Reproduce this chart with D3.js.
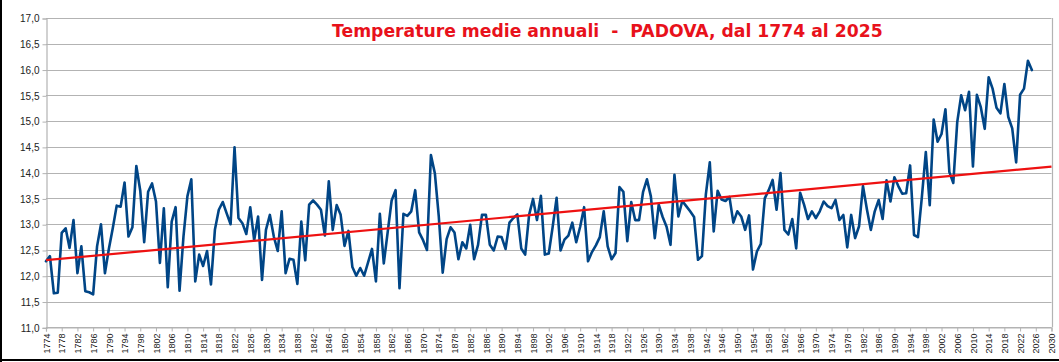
<!DOCTYPE html>
<html>
<head>
<meta charset="utf-8">
<script src="https://cdn.jsdelivr.net/npm/d3@7/dist/d3.min.js"></script>
<style>
  html, body { margin: 0; padding: 0; background: #fff; }
  svg { display: block; }
</style>
</head>
<body>
<div id="chart"></div>
<script>
// Annual mean temperature, Padova 1774-2025
var firstYear = 1774;
var temps = [
  // 1774-1779
  12.28, 12.38, 11.66, 11.67, 12.83, 12.92,
  // 1780s
  12.54, 13.08, 12.05, 12.57, 11.70, 11.68, 11.64, 12.57, 13.00, 12.05,
  // 1790s
  12.52, 12.92, 13.36, 13.34, 13.81, 12.76, 12.94, 14.13, 13.65, 12.65,
  // 1800s
  13.63, 13.79, 13.44, 12.25, 13.31, 11.78, 13.05, 13.33, 11.71, 12.76,
  // 1810s
  13.54, 13.87, 11.89, 12.41, 12.19, 12.48, 11.83, 12.89, 13.28, 13.43,
  // 1820s
  13.21, 13.00, 14.49, 13.12, 13.02, 12.81, 13.33, 12.69, 13.15, 11.92,
  // 1830s
  12.89, 13.18, 12.76, 12.48, 13.25, 12.05, 12.33, 12.31, 11.84, 13.05,
  // 1840s
  12.30, 13.38, 13.46, 13.38, 13.28, 12.78, 13.83, 12.89, 13.37, 13.19,
  // 1850s
  12.58, 12.87, 12.17, 12.00, 12.15, 12.00, 12.26, 12.52, 11.89, 13.20,
  // 1860s
  12.24, 12.85, 13.46, 13.66, 11.76, 13.20, 13.16, 13.25, 13.66, 12.84,
  // 1870s
  12.69, 12.50, 14.34, 13.99, 13.15, 12.06, 12.71, 12.94, 12.84, 12.32,
  // 1880s
  12.65, 12.53, 12.99, 12.32, 12.60, 13.18, 13.18, 12.60, 12.49, 12.76,
  // 1890s
  12.75, 12.52, 13.03, 13.12, 13.19, 12.53, 12.41, 13.18, 13.49, 13.08,
  // 1900s
  13.55, 12.41, 12.43, 12.95, 13.51, 12.49, 12.70, 12.78, 13.03, 12.65,
  // 1910s
  12.95, 13.33, 12.28, 12.46, 12.59, 12.75, 13.25, 12.57, 12.32, 12.44,
  // 1920s
  13.72, 13.63, 12.67, 13.43, 13.08, 13.08, 13.62, 13.87, 13.54, 12.73,
  // 1930s
  13.38, 13.14, 12.95, 12.60, 13.96, 13.15, 13.45, 13.35, 13.25, 13.14,
  // 1940s
  12.31, 12.38, 13.58, 14.20, 12.86, 13.65, 13.48, 13.45, 13.53, 13.03,
  // 1950s
  13.25, 13.15, 12.89, 13.17, 12.12, 12.47, 12.62, 13.50, 13.66, 13.86,
  // 1960s
  13.28, 13.99, 12.89, 12.80, 13.10, 12.53, 13.61, 13.38, 13.10, 13.25,
  // 1970s
  13.12, 13.25, 13.44, 13.35, 13.31, 13.47, 13.08, 13.18, 12.55, 13.18,
  // 1980s
  12.73, 12.96, 13.74, 13.29, 12.89, 13.25, 13.47, 13.10, 13.85, 13.44,
  // 1990s
  13.91, 13.74, 13.59, 13.60, 14.14, 12.79, 12.75, 13.53, 14.40, 13.37,
  // 2000s
  15.03, 14.60, 14.75, 15.23, 14.01, 13.80, 14.98, 15.50, 15.21, 15.57,
  // 2010s
  14.12, 15.51, 15.27, 14.85, 15.85, 15.63, 15.26, 15.15, 15.72, 15.08,
  // 2020-2025
  14.86, 14.20, 15.51, 15.63, 16.17, 15.99
];
var years = temps.map(function(d, i) { return firstYear + i; });

var yTicks = [11.0, 11.5, 12.0, 12.5, 13.0, 13.5, 14.0, 14.5, 15.0, 15.5, 16.0, 16.5, 17.0];
var xTicks = d3.range(1774, 2031, 4);   // 1774, 1778, ... 2030
var xDomain = [1774, 2030];
var yDomain = [11, 17];
var titleText = 'Temperature medie annuali  -  PADOVA, dal 1774 al 2025';

var width = 1059, height = 362;
var plot = { left: 46, right: 1051.5, top: 18, bottom: 327.3 };

var svg = d3.select('#chart').append('svg')
    .attr('width', width)
    .attr('height', height);

svg.append('rect').attr('width', width).attr('height', height).attr('fill', '#fff');

var x = d3.scaleLinear().domain(xDomain).range([plot.left, plot.right]);
var y = d3.scaleLinear().domain(yDomain).range([plot.bottom, plot.top]);

var gridColor = '#b3b3b3';
var labelFont = '"Liberation Sans", Arial, sans-serif';

// horizontal grid lines
svg.append('g')
    .selectAll('line')
    .data(yTicks)
    .enter().append('line')
    .attr('x1', plot.left).attr('x2', plot.right)
    .attr('y1', function(d) { return Math.round(y(d)) + 0.5; })
    .attr('y2', function(d) { return Math.round(y(d)) + 0.5; })
    .attr('stroke', gridColor)
    .attr('stroke-width', 1.2);

// right border of plot area
svg.append('line')
    .attr('x1', Math.round(plot.right) + 0.5).attr('x2', Math.round(plot.right) + 0.5)
    .attr('y1', plot.top).attr('y2', plot.bottom)
    .attr('stroke', gridColor).attr('stroke-width', 1.2);

// y axis
var yAxis = d3.axisLeft(y)
    .tickValues(yTicks)
    .tickSize(4)
    .tickPadding(3)
    .tickFormat(function(d) { return d3.format('.1f')(d).replace('.', ','); });

var gy = svg.append('g')
    .attr('transform', 'translate(' + (plot.left + 0.5) + ',0.5)')
    .call(yAxis);
gy.select('.domain').attr('stroke', gridColor).attr('stroke-width', 1.2);
gy.selectAll('.tick line').attr('stroke', gridColor);
gy.selectAll('.tick text')
    .attr('fill', '#222')
    .attr('font-size', '10px')
    .attr('font-family', labelFont);

// x axis
var xAxis = d3.axisBottom(x)
    .tickValues(xTicks)
    .tickSize(4)
    .tickFormat(d3.format('d'));

var gx = svg.append('g')
    .attr('transform', 'translate(0,' + (Math.round(plot.bottom) + 0.5) + ')')
    .call(xAxis);
gx.select('.domain').attr('stroke', gridColor).attr('stroke-width', 1.2);
gx.selectAll('.tick line').attr('stroke', gridColor);
gx.selectAll('.tick text')
    .attr('fill', '#222')
    .attr('font-size', '9px')
    .attr('font-family', labelFont)
    .attr('text-anchor', 'end')
    .attr('transform', 'rotate(-90)')
    .attr('x', -6)
    .attr('y', 0)
    .attr('dy', '0.35em');

// temperature line
var line = d3.line()
    .x(function(d, i) { return x(years[i]); })
    .y(function(d) { return y(d); });

svg.append('path')
    .datum(temps)
    .attr('fill', 'none')
    .attr('stroke', '#004586')
    .attr('stroke-width', 2.6)
    .attr('stroke-linejoin', 'round')
    .attr('stroke-linecap', 'round')
    .attr('d', line);

// linear trend (least squares), extended to the end of the axis
var mx = d3.mean(years), my = d3.mean(temps);
var sxy = d3.sum(years, function(yr, i) { return (yr - mx) * (temps[i] - my); });
var sxx = d3.sum(years, function(yr) { return (yr - mx) * (yr - mx); });
var slope = sxy / sxx;
var intercept = my - slope * mx;
var trend = [xDomain[0], xDomain[1]].map(function(yr) { return [yr, intercept + slope * yr]; });

svg.append('path')
    .datum(trend)
    .attr('fill', 'none')
    .attr('stroke', '#ee1111')
    .attr('stroke-width', 2.2)
    .attr('d', d3.line()
        .x(function(d) { return x(d[0]); })
        .y(function(d) { return y(d[1]); }));

// title: fit it to the width it takes in the original (332 -> 883)
var title = svg.append('text')
    .attr('x', 332)
    .attr('y', 37)
    .attr('fill', '#e8111b')
    .attr('font-size', '18px')
    .attr('font-weight', 'bold')
    .attr('font-family', '"DejaVu Sans", Verdana, sans-serif')
    .style('white-space', 'pre')
    .text(titleText);
var tw = title.node().getComputedTextLength();
if (tw > 0) {
    title.attr('font-size', (18 * 551 / tw).toFixed(2) + 'px');
}

// frame on the left and bottom edges of the picture
svg.append('line').attr('x1', 1).attr('x2', 1).attr('y1', 0).attr('y2', height)
    .attr('stroke', '#000').attr('stroke-width', 2);
svg.append('line').attr('x1', 0).attr('x2', width).attr('y1', 360).attr('y2', 360)
    .attr('stroke', '#000').attr('stroke-width', 2);
</script>
</body>
</html>
